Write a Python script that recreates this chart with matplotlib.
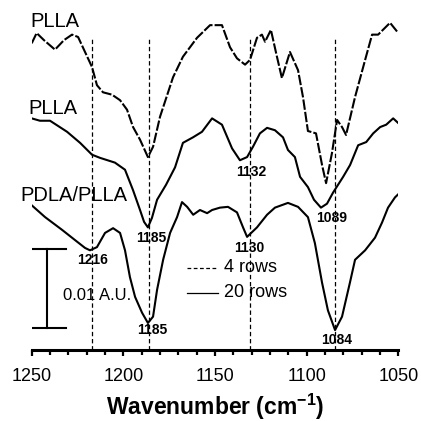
import matplotlib
matplotlib.use("Agg")
import matplotlib.pyplot as plt
from matplotlib.ticker import MultipleLocator

plt.rcParams['font.family'] = ['Liberation Sans', 'DejaVu Sans']
plt.rcParams['mathtext.fontset'] = 'custom'
plt.rcParams['mathtext.rm'] = 'Liberation Sans'
plt.rcParams['mathtext.bf'] = 'Liberation Sans:bold'

# ---- data (wavenumber, absorbance offset in mA.U.) ----
top_wn = [1250.0, 1247.3, 1243.3, 1237.3, 1232.4, 1228.0, 1224.7, 1219.3, 1217.1, 1214.4,
          1211.1, 1206.2, 1201.8, 1198.0, 1194.7, 1190.9, 1186.6, 1183.8, 1180.0, 1177.3,
          1172.9, 1167.5, 1159.8, 1152.7, 1146.2, 1141.8, 1138.0, 1133.6, 1130.9, 1127.1,
          1124.4, 1122.7, 1119.5, 1116.2, 1113.5, 1109.1, 1104.7, 1102.0, 1099.3, 1094.9,
          1091.6, 1089.4, 1086.2, 1083.4, 1080.7, 1078.5, 1073.6, 1068.1, 1064.3, 1061.0,
          1054.5, 1050.0]
top_y = [39.2, 40.5, 39.6, 38.4, 39.6, 40.3, 40.0, 37.3, 36.2, 33.9,
         33.0, 32.7, 32.0, 30.8, 28.6, 27.0, 24.8, 26.1, 29.9, 31.8,
         34.9, 37.5, 39.9, 41.5, 41.5, 38.7, 37.3, 36.5, 37.1, 39.9,
         40.3, 39.4, 40.9, 37.5, 34.8, 38.1, 35.8, 32.4, 28.1, 27.8,
         23.8, 21.5, 25.3, 29.5, 28.6, 27.6, 32.4, 37.1, 40.3, 40.3,
         41.8, 40.5]

mid_wn = [1250.0, 1245.5, 1240.0, 1230.7, 1223.6, 1217.1, 1212.7, 1204.6, 1199.1, 1194.7,
          1190.9, 1188.7, 1186.6, 1184.4, 1181.6, 1176.7, 1171.8, 1167.5, 1162.0, 1157.1,
          1151.6, 1146.2, 1140.7, 1136.4, 1132.5, 1129.3, 1125.5, 1121.6, 1117.3, 1112.9,
          1110.2, 1106.4, 1103.6, 1099.3, 1096.0, 1092.2, 1088.9, 1085.6, 1080.1, 1076.3,
          1071.9, 1067.5, 1063.7, 1059.9, 1056.6, 1052.8, 1050.0]
mid_y = [29.7, 29.4, 29.4, 28.0, 26.6, 25.1, 24.7, 24.1, 23.2, 20.6,
         18.1, 16.6, 15.9, 17.1, 19.4, 21.3, 23.5, 26.6, 27.3, 28.0,
         29.7, 28.9, 25.9, 24.4, 24.8, 26.1, 27.8, 28.5, 28.2, 27.3,
         25.7, 24.8, 22.3, 21.0, 19.4, 18.4, 18.9, 20.3, 22.3, 23.8,
         26.3, 26.7, 27.8, 28.6, 28.9, 29.7, 29.1]

bot_wn = [1250.0, 1242.7, 1233.5, 1226.4, 1220.9, 1218.2, 1214.4, 1210.0, 1205.6, 1201.8,
          1199.1, 1196.4, 1193.6, 1189.8, 1186.6, 1183.8, 1181.6, 1178.3, 1174.5, 1170.7,
          1168.0, 1165.2, 1161.9, 1158.2, 1154.3, 1151.6, 1147.3, 1142.9, 1138.0, 1134.7,
          1132.5, 1127.1, 1121.6, 1117.3, 1110.2, 1104.7, 1099.3, 1095.5, 1091.6, 1088.4,
          1084.5, 1080.7, 1076.4, 1073.6, 1068.1, 1062.7, 1058.9, 1055.6, 1051.8, 1050.0]
bot_y = [18.7, 17.2, 15.6, 14.3, 13.3, 13.0, 13.4, 15.2, 15.8, 15.2,
         13.0, 9.6, 7.1, 5.1, 3.8, 4.6, 8.0, 11.8, 15.2, 17.2,
         19.1, 18.5, 17.5, 18.1, 17.7, 18.1, 18.4, 18.5, 17.8, 15.9,
         14.7, 15.9, 17.5, 18.4, 19.0, 18.5, 17.2, 13.9, 8.9, 5.4,
         2.9, 4.6, 8.9, 11.8, 13.0, 14.6, 16.5, 18.4, 19.7, 20.1]

vlines_wn = [1217, 1186, 1131, 1084.5]
vline_top = 39.9

sample_labels = ["PLLA", "PLLA", "PDLA/PLLA"]
sample_pos = [(1250.9, 41.9), (1252.0, 31.0), (1256.4, 19.9)]

peak_labels = ["1132", "1185", "1216", "1130", "1089", "1185", "1084"]
peak_pos = [(1130.4, 22.9), (1184.9, 14.6), (1216.8, 11.8), (1131.4, 13.3),
            (1086.2, 17.1), (1184.4, 2.9), (1083.4, 1.6)]

legend_labels = ["4 rows", "20 rows"]
xticks = [1250, 1200, 1150, 1100, 1050]

# ---- figure ----
W = 421
fig = plt.figure(figsize=(W / 100, W / 100), dpi=100)
left_px, right_px, bot_px, top_px = 31.7, 398.3, 350, 10
ax = fig.add_axes([left_px / W, (W - bot_px) / W, (right_px - left_px) / W, (bot_px - top_px) / W])

def ypx(p):
    return (353 - p) * 10 / 79

ax.set_xlim(1250, 1050)
ax.set_ylim(ypx(bot_px), ypx(top_px))

ax.plot(top_wn, top_y, color='black', lw=1.5, linestyle=(0, (5, 1)))
ax.plot(mid_wn, mid_y, color='black', lw=1.5)
ax.plot(bot_wn, bot_y, color='black', lw=1.5)

for v in vlines_wn:
    ax.plot([v, v], [ax.get_ylim()[0], vline_top], color='black', lw=0.9,
            linestyle=(0, (3.5, 2.2)))

for t, (x, y) in zip(sample_labels, sample_pos):
    ax.text(x, y, t, fontsize=14.5, ha='left', va='center', clip_on=False)

for t, (x, y) in zip(peak_labels, peak_pos):
    ax.text(x, y, t, fontsize=10, fontweight='bold', ha='center', va='center')

# legend (drawn manually to match the original layout)
ax.plot([1165.2, 1148.3], [10.8, 10.8], color='black', lw=0.9, linestyle=(0, (3, 2)))
ax.plot([1165.2, 1148.3], [7.6, 7.6], color='black', lw=0.9)
ax.text(1145.0, 10.8, legend_labels[0], fontsize=13, ha='left', va='center')
ax.text(1145.0, 7.6, legend_labels[1], fontsize=13, ha='left', va='center')

# scale bar 0.01 A.U. = 10 mA.U.
sb_x, sb_bot, sb_top = 1241.8, 3.2, 13.2
ax.plot([sb_x, sb_x], [sb_bot, sb_top], color='black', lw=1.5)
ax.plot([1249.7, 1231.5], [sb_top, sb_top], color='black', lw=1.5)
ax.plot([1249.7, 1231.5], [sb_bot, sb_bot], color='black', lw=1.5)
ax.text(1214.4, 7.3, "0.01 A.U.", fontsize=12, ha='center', va='center')

# axes styling
for s in ['top', 'left', 'right']:
    ax.spines[s].set_visible(False)
ax.spines['bottom'].set_linewidth(2.2)
ax.set_yticks([])
ax.set_xticks(xticks)
ax.xaxis.set_minor_locator(MultipleLocator(10))
ax.tick_params(axis='x', which='major', direction='out', length=4, width=1.6,
               labelsize=13, pad=9)
ax.tick_params(axis='x', which='minor', direction='out', length=3.5, width=1.6)
ax.set_xlabel(r"Wavenumber (cm$^{\mathbf{-1}}$)", fontsize=16.5, fontweight='bold', labelpad=5)

fig.savefig("out.png", dpi=100)
